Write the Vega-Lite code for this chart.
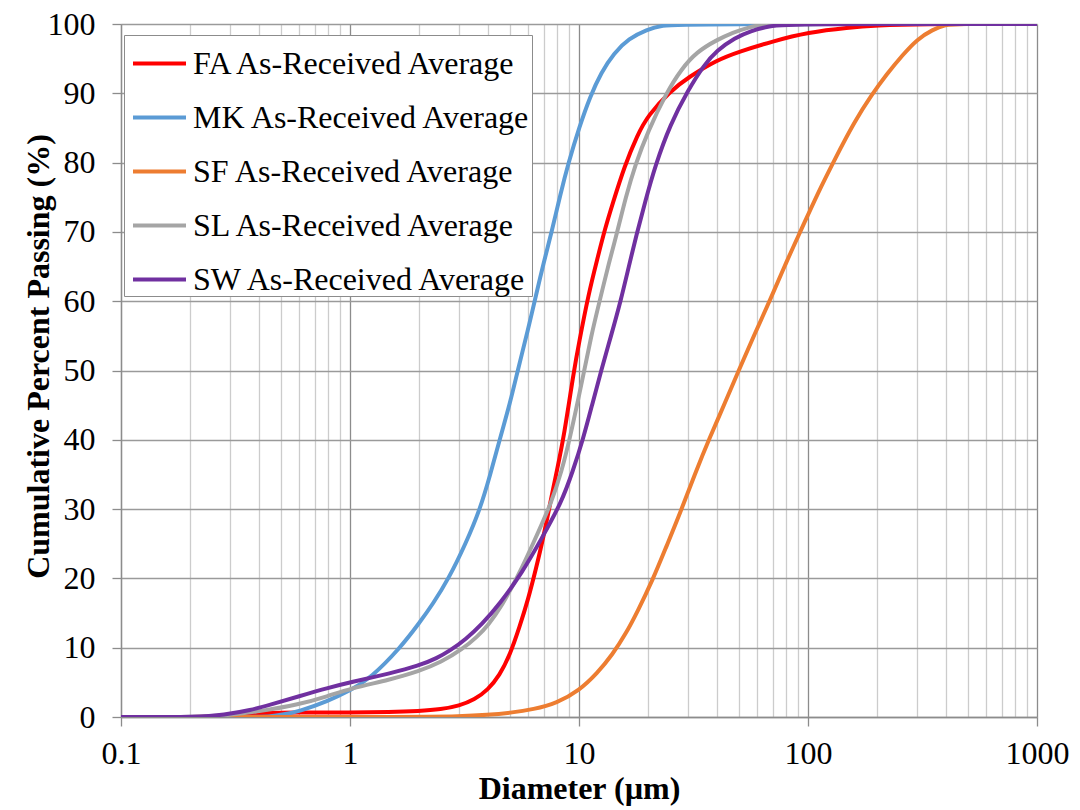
{
  "$schema": "https://vega.github.io/schema/vega-lite/v6.json",
  "autosize": {"type": "none"},
  "padding": {"left": 121, "top": 24, "right": 43, "bottom": 93},
  "width": 916,
  "height": 693,
  "background": "white",
  "config": {"view": {"stroke": null}, "font": "Times New Roman, Liberation Serif, DejaVu Serif, serif"},
  "datasets": {
    "src": [
      {"s":"FA As-Received Average","d":0.1,"p":0},{"s":"FA As-Received Average","d":0.2,"p":0},{"s":"FA As-Received Average","d":0.25,"p":0.05},{"s":"FA As-Received Average","d":0.3,"p":0.3},{"s":"FA As-Received Average","d":0.4,"p":0.55},{"s":"FA As-Received Average","d":0.6,"p":0.65},{"s":"FA As-Received Average","d":1,"p":0.65},{"s":"FA As-Received Average","d":1.5,"p":0.7},{"s":"FA As-Received Average","d":2,"p":0.85},{"s":"FA As-Received Average","d":2.5,"p":1.1},{"s":"FA As-Received Average","d":3,"p":1.6},{"s":"FA As-Received Average","d":3.5,"p":2.5},{"s":"FA As-Received Average","d":4,"p":3.9},{"s":"FA As-Received Average","d":4.5,"p":6.0},{"s":"FA As-Received Average","d":5,"p":9.0},{"s":"FA As-Received Average","d":5.5,"p":13.0},{"s":"FA As-Received Average","d":6,"p":17.0},{"s":"FA As-Received Average","d":6.5,"p":21.5},{"s":"FA As-Received Average","d":7,"p":26},{"s":"FA As-Received Average","d":7.5,"p":31},{"s":"FA As-Received Average","d":8,"p":35.5},{"s":"FA As-Received Average","d":8.6,"p":40.5},{"s":"FA As-Received Average","d":9.5,"p":50},{"s":"FA As-Received Average","d":10,"p":54},{"s":"FA As-Received Average","d":11,"p":61},{"s":"FA As-Received Average","d":12,"p":66},{"s":"FA As-Received Average","d":13,"p":70.5},{"s":"FA As-Received Average","d":14,"p":74},{"s":"FA As-Received Average","d":15.8,"p":79.5},{"s":"FA As-Received Average","d":18,"p":84},{"s":"FA As-Received Average","d":20,"p":86.8},{"s":"FA As-Received Average","d":25,"p":90.3},{"s":"FA As-Received Average","d":30,"p":92.3},{"s":"FA As-Received Average","d":40,"p":94.8},{"s":"FA As-Received Average","d":50,"p":96.0},{"s":"FA As-Received Average","d":70,"p":97.5},{"s":"FA As-Received Average","d":100,"p":98.8},{"s":"FA As-Received Average","d":150,"p":99.5},{"s":"FA As-Received Average","d":200,"p":99.8},{"s":"FA As-Received Average","d":300,"p":100},{"s":"FA As-Received Average","d":1000,"p":100},

      {"s":"MK As-Received Average","d":0.1,"p":0},{"s":"MK As-Received Average","d":0.4,"p":0},{"s":"MK As-Received Average","d":0.45,"p":0.1},{"s":"MK As-Received Average","d":0.5,"p":0.3},{"s":"MK As-Received Average","d":0.6,"p":0.8},{"s":"MK As-Received Average","d":0.8,"p":2.3},{"s":"MK As-Received Average","d":1,"p":3.8},{"s":"MK As-Received Average","d":1.23,"p":5.6},{"s":"MK As-Received Average","d":1.66,"p":10},{"s":"MK As-Received Average","d":2,"p":13.5},{"s":"MK As-Received Average","d":2.3,"p":16.3},{"s":"MK As-Received Average","d":2.7,"p":20},{"s":"MK As-Received Average","d":3.2,"p":25},{"s":"MK As-Received Average","d":3.7,"p":30},{"s":"MK As-Received Average","d":4.1,"p":35},{"s":"MK As-Received Average","d":4.5,"p":40},{"s":"MK As-Received Average","d":5,"p":45.3},{"s":"MK As-Received Average","d":5.4,"p":50},{"s":"MK As-Received Average","d":6,"p":56},{"s":"MK As-Received Average","d":6.4,"p":60},{"s":"MK As-Received Average","d":7,"p":65.5},{"s":"MK As-Received Average","d":7.6,"p":70},{"s":"MK As-Received Average","d":8.3,"p":75.5},{"s":"MK As-Received Average","d":9,"p":80},{"s":"MK As-Received Average","d":10,"p":85},{"s":"MK As-Received Average","d":11.2,"p":89.6},{"s":"MK As-Received Average","d":12.5,"p":93},{"s":"MK As-Received Average","d":14.2,"p":95.8},{"s":"MK As-Received Average","d":16.5,"p":97.9},{"s":"MK As-Received Average","d":19.8,"p":99.2},{"s":"MK As-Received Average","d":23,"p":99.8},{"s":"MK As-Received Average","d":28.5,"p":100},{"s":"MK As-Received Average","d":1000,"p":100},

      {"s":"SF As-Received Average","d":0.1,"p":0},{"s":"SF As-Received Average","d":2,"p":0},{"s":"SF As-Received Average","d":3,"p":0.1},{"s":"SF As-Received Average","d":4,"p":0.3},{"s":"SF As-Received Average","d":5,"p":0.6},{"s":"SF As-Received Average","d":6.34,"p":1.1},{"s":"SF As-Received Average","d":8,"p":2.0},{"s":"SF As-Received Average","d":10,"p":3.8},{"s":"SF As-Received Average","d":12,"p":6.3},{"s":"SF As-Received Average","d":14,"p":9.0},{"s":"SF As-Received Average","d":16,"p":12.0},{"s":"SF As-Received Average","d":18,"p":15.2},{"s":"SF As-Received Average","d":21,"p":19.8},{"s":"SF As-Received Average","d":24,"p":24.5},{"s":"SF As-Received Average","d":27.7,"p":29.5},{"s":"SF As-Received Average","d":32,"p":35},{"s":"SF As-Received Average","d":37.4,"p":40.5},{"s":"SF As-Received Average","d":43,"p":45},{"s":"SF As-Received Average","d":49.8,"p":50},{"s":"SF As-Received Average","d":58,"p":55},{"s":"SF As-Received Average","d":69,"p":60.5},{"s":"SF As-Received Average","d":80,"p":65.5},{"s":"SF As-Received Average","d":94,"p":70.5},{"s":"SF As-Received Average","d":110,"p":75.5},{"s":"SF As-Received Average","d":131,"p":80.5},{"s":"SF As-Received Average","d":160,"p":86},{"s":"SF As-Received Average","d":190,"p":89.8},{"s":"SF As-Received Average","d":220,"p":92.7},{"s":"SF As-Received Average","d":260,"p":95.6},{"s":"SF As-Received Average","d":300,"p":97.8},{"s":"SF As-Received Average","d":350,"p":99.2},{"s":"SF As-Received Average","d":400,"p":99.9},{"s":"SF As-Received Average","d":440,"p":100},{"s":"SF As-Received Average","d":1000,"p":100},

      {"s":"SL As-Received Average","d":0.1,"p":0},{"s":"SL As-Received Average","d":0.22,"p":0},{"s":"SL As-Received Average","d":0.3,"p":0.3},{"s":"SL As-Received Average","d":0.4,"p":0.8},{"s":"SL As-Received Average","d":0.6,"p":1.8},{"s":"SL As-Received Average","d":0.8,"p":3.0},{"s":"SL As-Received Average","d":1,"p":4.1},{"s":"SL As-Received Average","d":1.5,"p":5.4},{"s":"SL As-Received Average","d":2,"p":6.6},{"s":"SL As-Received Average","d":2.5,"p":7.9},{"s":"SL As-Received Average","d":3.1,"p":9.8},{"s":"SL As-Received Average","d":3.6,"p":11.6},{"s":"SL As-Received Average","d":4,"p":13.2},{"s":"SL As-Received Average","d":4.6,"p":16},{"s":"SL As-Received Average","d":5.45,"p":20.5},{"s":"SL As-Received Average","d":6.3,"p":25},{"s":"SL As-Received Average","d":7.6,"p":31},{"s":"SL As-Received Average","d":8.4,"p":35.5},{"s":"SL As-Received Average","d":9.1,"p":40},{"s":"SL As-Received Average","d":10.4,"p":49},{"s":"SL As-Received Average","d":11.3,"p":55},{"s":"SL As-Received Average","d":12.3,"p":60},{"s":"SL As-Received Average","d":13.5,"p":65.5},{"s":"SL As-Received Average","d":14.7,"p":70},{"s":"SL As-Received Average","d":16,"p":75},{"s":"SL As-Received Average","d":17.6,"p":79.7},{"s":"SL As-Received Average","d":20,"p":84.5},{"s":"SL As-Received Average","d":24,"p":90},{"s":"SL As-Received Average","d":28,"p":93.5},{"s":"SL As-Received Average","d":32.7,"p":96},{"s":"SL As-Received Average","d":40,"p":97.7},{"s":"SL As-Received Average","d":47,"p":98.8},{"s":"SL As-Received Average","d":55,"p":99.5},{"s":"SL As-Received Average","d":62,"p":99.9},{"s":"SL As-Received Average","d":70,"p":100},{"s":"SL As-Received Average","d":1000,"p":100},

      {"s":"SW As-Received Average","d":0.1,"p":0},{"s":"SW As-Received Average","d":0.22,"p":0},{"s":"SW As-Received Average","d":0.28,"p":0.3},{"s":"SW As-Received Average","d":0.37,"p":1.0},{"s":"SW As-Received Average","d":0.45,"p":1.8},{"s":"SW As-Received Average","d":0.6,"p":3.0},{"s":"SW As-Received Average","d":0.8,"p":4.2},{"s":"SW As-Received Average","d":1,"p":5.0},{"s":"SW As-Received Average","d":1.5,"p":6.3},{"s":"SW As-Received Average","d":2,"p":7.4},{"s":"SW As-Received Average","d":2.4,"p":8.5},{"s":"SW As-Received Average","d":2.74,"p":9.6},{"s":"SW As-Received Average","d":3.2,"p":11.2},{"s":"SW As-Received Average","d":3.77,"p":13.4},{"s":"SW As-Received Average","d":4.5,"p":16.3},{"s":"SW As-Received Average","d":5.64,"p":20.8},{"s":"SW As-Received Average","d":6.8,"p":25.5},{"s":"SW As-Received Average","d":8.4,"p":31},{"s":"SW As-Received Average","d":9.4,"p":35.5},{"s":"SW As-Received Average","d":10.4,"p":40},{"s":"SW As-Received Average","d":11.4,"p":45},{"s":"SW As-Received Average","d":12.5,"p":50},{"s":"SW As-Received Average","d":13.8,"p":55},{"s":"SW As-Received Average","d":15.2,"p":60},{"s":"SW As-Received Average","d":16.5,"p":65},{"s":"SW As-Received Average","d":17.8,"p":69.5},{"s":"SW As-Received Average","d":19.5,"p":74.5},{"s":"SW As-Received Average","d":21.5,"p":79.5},{"s":"SW As-Received Average","d":25,"p":85.5},{"s":"SW As-Received Average","d":30,"p":90.5},{"s":"SW As-Received Average","d":35,"p":94},{"s":"SW As-Received Average","d":40,"p":96.2},{"s":"SW As-Received Average","d":48,"p":98},{"s":"SW As-Received Average","d":56,"p":99},{"s":"SW As-Received Average","d":68,"p":99.7},{"s":"SW As-Received Average","d":81,"p":100},{"s":"SW As-Received Average","d":1000,"p":100}
    ]
  },
  "data": {"name": "src"},
  "mark": {"type": "line", "interpolate": "basis", "strokeWidth": 4, "clip": true},
  "encoding": {
    "x": {
      "field": "d", "type": "quantitative",
      "scale": {"type": "log", "domain": [0.1, 1000], "nice": false},
      "axis": {
        "values": [0.1,0.2,0.3,0.4,0.5,0.6,0.7,0.8,0.9,1,2,3,4,5,6,7,8,9,10,20,30,40,50,60,70,80,90,100,200,300,400,500,600,700,800,900,1000],
        "labelExpr": "indexof([0.1,1,10,100,1000], datum.value) >= 0 ? toString(datum.value) : ''",
        "labelOverlap": false, "labelFlush": false, "labelBound": false,
        "labelFont": "Times New Roman, Liberation Serif, DejaVu Serif, serif", "labelFontSize": 32, "labelColor": "black", "labelPadding": 12,
        "tickSize": 9, "tickColor": "#8c8c8c", "tickWidth": 1.3,
        "tickOpacity": {"condition": {"test": "indexof([0.1,1,10,100,1000], datum.value) >= 0", "value": 1}, "value": 0},
        "grid": true,
        "gridColor": {"condition": {"test": "indexof([0.1,1,10,100,1000], datum.value) >= 0", "value": "#8c8c8c"}, "value": "#cccccc"},
        "gridWidth": 1.3,
        "domainColor": "#8c8c8c", "domainWidth": 1.3,
        "title": "Diameter (µm)", "titleFont": "Liberation Serif", "titleFontSize": 32, "titleFontWeight": "bold", "titleColor": "black",
        "titleBaseline": "alphabetic", "titleY": 81
      }
    },
    "y": {
      "field": "p", "type": "quantitative",
      "scale": {"domain": [0, 100], "nice": false},
      "axis": {
        "values": [0,10,20,30,40,50,60,70,80,90,100],
        "labelFont": "Times New Roman, Liberation Serif, DejaVu Serif, serif", "labelFontSize": 32, "labelColor": "black", "labelPadding": 17,
        "tickSize": 9, "tickColor": "#8c8c8c", "tickWidth": 1.3,
        "grid": true, "gridColor": "#9a9a9a", "gridWidth": 1.3,
        "domainColor": "#8c8c8c", "domainWidth": 1.3,
        "title": "Cumulative Percent Passing (%)", "titleFont": "Liberation Serif", "titleFontSize": 32, "titleFontWeight": "bold", "titleColor": "black",
        "titleBaseline": "alphabetic", "titleX": -73, "titleY": 332, "titleAngle": 270
      }
    },
    "color": {
      "field": "s", "type": "nominal",
      "scale": {"domain": ["FA As-Received Average","MK As-Received Average","SF As-Received Average","SL As-Received Average","SW As-Received Average"],
                "range": ["#ff0000","#5b9bd5","#ed7d31","#a5a5a5","#7030a0"]},
      "legend": {
        "orient": "none", "legendX": 3, "legendY": 11, "title": null,
        "symbolType": "stroke", "symbolSize": 2809, "symbolStrokeWidth": 4, "symbolOffset": 7,
        "labelFont": "Times New Roman, Liberation Serif, DejaVu Serif, serif", "labelFontSize": 32, "labelColor": "black", "labelLimit": 0, "labelOffset": 5,
        "padding": 0, "rowPadding": 9, "strokeColor": "#8c8c8c", "fillColor": "white"
      }
    }
  }
}
